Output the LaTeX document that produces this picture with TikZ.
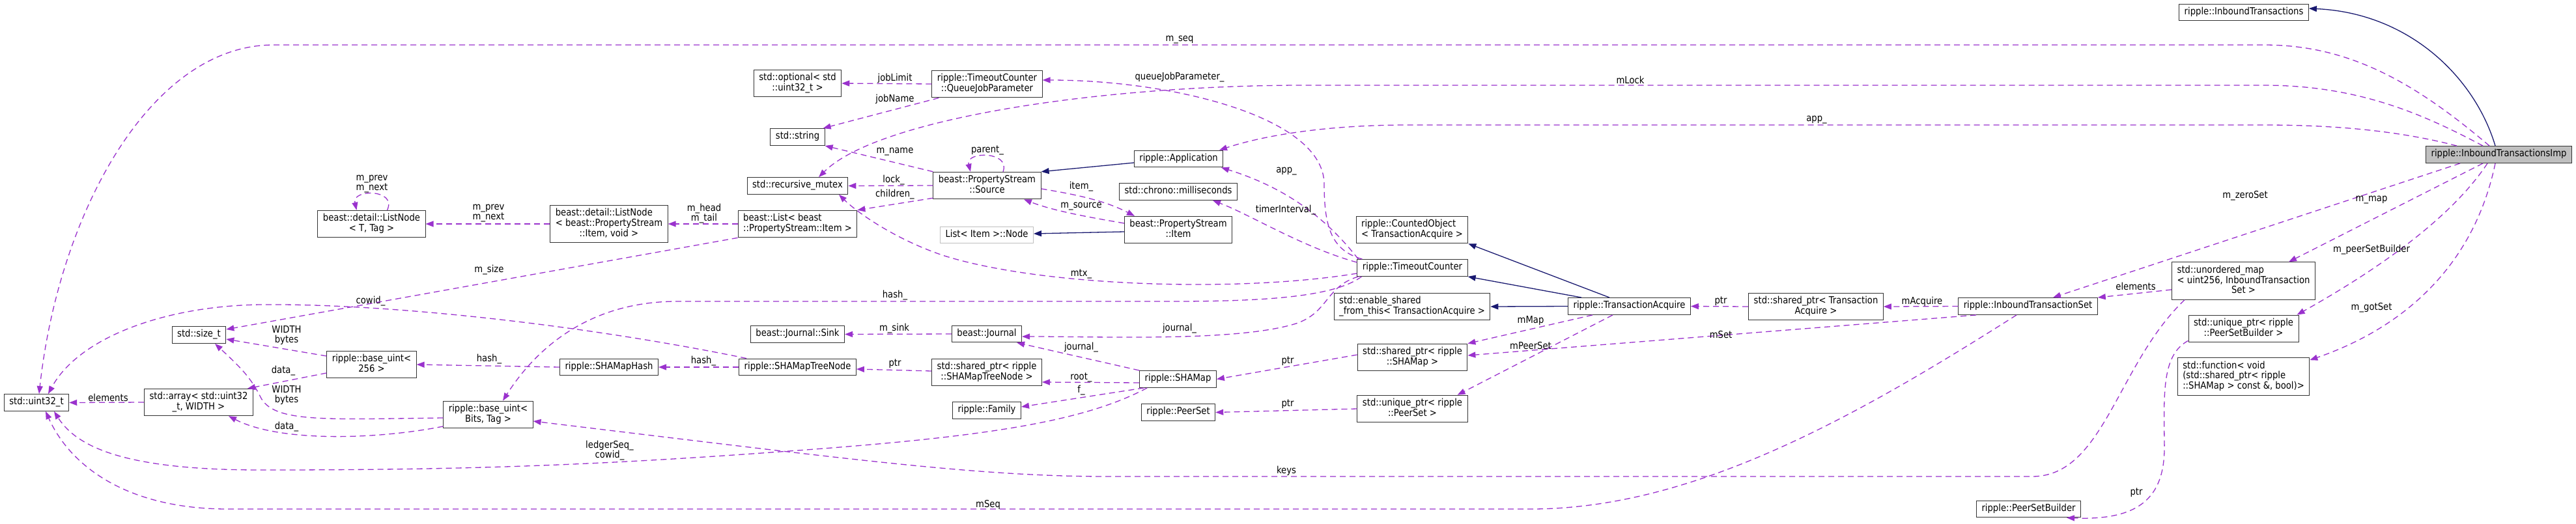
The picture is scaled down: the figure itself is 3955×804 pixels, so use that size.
\documentclass[tikz,border=0pt]{standalone}
\usepackage{fontspec}
\setmainfont{DejaVu Sans}[FakeStretch=0.88]
\usepackage{xcolor}
\usepackage{tikz}
\usetikzlibrary{arrows.meta}
\definecolor{membpurple}{HTML}{9A32CD}
\definecolor{inhnavy}{HTML}{191970}
\definecolor{boxline}{HTML}{333333}
\definecolor{impgray}{HTML}{BFBFBF}
\definecolor{nodocgray}{HTML}{BFBFBF}
\newcommand{\nodefont}{\fontsize{15}{15}\selectfont}
\newcommand{\cltwo}[2]{\begin{tabular}{@{}l@{}}#1\\\multicolumn{1}{@{}c@{}}{#2}\end{tabular}}
\newcommand{\clthree}[3]{\begin{tabular}{@{}l@{}}#1\\#2\\\multicolumn{1}{@{}c@{}}{#3}\end{tabular}}

\begin{document}
\begin{tikzpicture}[
  x=1pt, y=-1pt,
  font=\nodefont,
  cls/.style={draw=boxline, fill=white, line width=1pt, inner xsep=8pt, inner ysep=5pt, execute at begin node=\strut},
  memb/.style={draw=membpurple, line width=1.3pt, dash pattern=on 9pt off 6pt, -{Triangle[length=12pt,width=9pt]}},
  inher/.style={draw=inhnavy, line width=1.3pt, -{Triangle[length=12pt,width=9pt]}},
  lbl/.style={inner sep=0pt, align=center}
]
\useasboundingbox (0,0) rectangle (3955,804);

% classes
\node[cls] (itr) at (3445,19) {ripple::InboundTransactions};
\node[cls, fill=impgray] (imp) at (3836.5,237.5) {ripple::InboundTransactionsImp};
\node[cls] (u32) at (56,618.5) {std::uint32\_t};
\node[cls] (lnT) at (570.5,344) {\cltwo{beast::detail::ListNode}{< T, Tag >}};
\node[cls] (sizet) at (305.5,514.5) {std::size\_t};
\node[cls] (bu256) at (570.5,560) {\cltwo{ripple::base\_uint<}{256 >}};
\node[cls] (arr) at (305,618) {\cltwo{std::array< std::uint32}{\_t, WIDTH >}};
\node[cls] (opt) at (1224.5,128) {\cltwo{std::optional< std}{::uint32\_t >}};
\node[cls] (str) at (1224.5,210.5) {std::string};
\node[cls] (rmtx) at (1224.5,285.5) {std::recursive\_mutex};
\node[cls] (lnItem) at (935,344) {\clthree{beast::detail::ListNode}{< beast::PropertyStream}{::Item, void >}};
\node[cls] (list) at (1224.5,344) {\cltwo{beast::List< beast}{::PropertyStream::Item >}};
\node[cls] (sink) at (1224.5,513.5) {beast::Journal::Sink};
\node[cls] (shhash) at (935,564) {ripple::SHAMapHash};
\node[cls] (tnode) at (1224.5,564) {ripple::SHAMapTreeNode};
\node[cls] (buBT) at (749.5,637) {\cltwo{ripple::base\_uint<}{Bits, Tag >}};
\node[cls] (qjp) at (1515.5,129) {\cltwo{ripple::TimeoutCounter}{::QueueJobParameter}};
\node[cls] (app) at (1809.5,244) {ripple::Application};
\node[cls] (src) at (1515.5,285) {\cltwo{beast::PropertyStream}{::Source}};
\node[cls] (msec) at (1809,294.5) {std::chrono::milliseconds};
\node[cls] (item) at (1809,353) {\cltwo{beast::PropertyStream}{::Item}};
\node[cls, draw=nodocgray] (lnode) at (1515,361) {List< Item >::Node};
\node[cls] (cobj) at (2168,353) {\cltwo{ripple::CountedObject}{< TransactionAcquire >}};
\node[cls] (tc) at (2168.5,411.5) {ripple::TimeoutCounter};
\node[cls] (esft) at (2168,471) {\cltwo{std::enable\_shared}{\_from\_this< TransactionAcquire >}};
\node[cls] (jrn) at (1515,513) {beast::Journal};
\node[cls] (sptn) at (1515,572) {\cltwo{std::shared\_ptr< ripple}{::SHAMapTreeNode >}};
\node[cls] (smap) at (1808.5,582.5) {ripple::SHAMap};
\node[cls] (spsm) at (2168.5,549) {\cltwo{std::shared\_ptr< ripple}{::SHAMap >}};
\node[cls] (fam) at (1515,630.5) {ripple::Family};
\node[cls] (pset) at (1809,633.5) {ripple::PeerSet};
\node[cls] (upps) at (2168.5,628) {\cltwo{std::unique\_ptr< ripple}{::PeerSet >}};
\node[cls] (ta) at (2501.5,470.5) {ripple::TransactionAcquire};
\node[cls] (spta) at (2788,471) {\cltwo{std::shared\_ptr< Transaction}{Acquire >}};
\node[cls] (its) at (3113.5,470.5) {ripple::InboundTransactionSet};
\node[cls] (umap) at (3444.5,431.5) {\clthree{std::unordered\_map}{< uint256, InboundTransaction}{Set >}};
\node[cls] (uppsb) at (3444.5,505) {\cltwo{std::unique\_ptr< ripple}{::PeerSetBuilder >}};
\node[cls] (func) at (3444.5,578.5) {\clthree{std::function< void}{(std::shared\_ptr< ripple}{::SHAMap > const \&, bool)>}};
\node[cls] (psb) at (3114.5,782) {ripple::PeerSetBuilder};

% inheritance
\draw[inher] ([xshift=-5.5pt]imp.north) .. controls (3800,120) and (3700,20) .. ([yshift=6pt]itr.east);
\draw[inher] ([xshift=-30.5pt]ta.north) -- (cobj.south east);
\draw[inher] ([xshift=-73.5pt]ta.north) -- (tc.south east);
\draw[inher] (ta.west) -- (esft.east);
\draw[inher] ([yshift=-6pt]app.west) -- (src.north east);
\draw[inher] ([yshift=-3pt]item.west) -- ([yshift=2pt]lnode.east);

% members of InboundTransactionsImp
\draw[memb] ([xshift=-14.5pt]imp.north) .. controls (3700,120) and (3600,69) .. (3476,69) -- (420,69) .. controls (230,69) and (90,330) .. ([xshift=4pt]u32.north) node[lbl, at={(1811,61)}] {m\_seq};
\draw[memb] ([xshift=-24.5pt]imp.north) .. controls (3720,175) and (3620,131) .. (3476,131) -- (2000,131) .. controls (1700,131) and (1350,180) .. ([xshift=32.5pt]rmtx.north) node[lbl, at={(2503,123)}] {mLock};
\draw[memb] ([xshift=-64.5pt]imp.north) .. controls (3680,200) and (3580,192) .. (3476,192) -- (2160,192) .. controls (2050,192) and (1950,205) .. ([xshift=62.5pt]app.north) node[lbl, at={(2789,184)}] {app\_};
\draw[memb] ([xshift=-59.5pt]imp.south) -- ([xshift=38.5pt]its.north) node[lbl, at={(3447,301)}] {m\_zeroSet};
\draw[memb] ([xshift=-24.5pt]imp.south) -- ([xshift=69.5pt]umap.north) node[lbl, at={(3641,307)}] {m\_map};
\draw[memb] ([xshift=-17.5pt]imp.south) .. controls (3760,340) and (3640,420) .. ([xshift=-3pt]uppsb.north east) node[lbl, at={(3641,384)}] {m\_peerSetBuilder};
\draw[memb] ([xshift=-5.5pt]imp.south) .. controls (3800,400) and (3700,500) .. ([yshift=-4pt]func.north east) node[lbl, at={(3641,473)}] {m\_gotSet};

% transaction sets
\draw[memb] ([yshift=-13.5pt]umap.west) -- (its.north east) node[lbl, at={(3279,440)}] {elements};
\draw[memb] ([xshift=-90.5pt]umap.south) .. controls (3250,560) and (3230,732) .. (3120,732) -- (1700,732) .. controls (1500,732) and (1300,705) .. ([yshift=-10pt]buBT.east) node[lbl, at={(1975,723)}] {keys};
\draw[memb] ([xshift=-17.5pt]its.south) .. controls (2850,640) and (2600,782) .. (2350,782) -- (350,782) .. controls (200,782) and (110,720) .. ([xshift=14pt]u32.south) node[lbl, at={(1517,775)}] {mSeq};
\draw[memb] (its.west) -- (spta.east) node[lbl, at={(2951,463)}] {mAcquire};
\draw[memb] ([xshift=-79.5pt]its.south) -- ([yshift=3pt]spsm.east) node[lbl, at={(2642,514)}] {mSet};
\draw[memb] ([yshift=3pt]uppsb.south west) .. controls (3320,545) and (3322,600) .. (3323,680) .. controls (3325,760) and (3290,800) .. ([xshift=-22pt]psb.south east) node[lbl, at={(3280,757)}] {ptr};
\draw[memb] (spta.west) -- (ta.east) node[lbl, at={(2642,463)}] {ptr};
\draw[memb] ([xshift=-56.5pt]ta.south) -- (spsm.north east) node[lbl, at={(2350,493)}] {mMap};
\draw[memb] ([xshift=-25.5pt]ta.south) -- ([xshift=-16pt]upps.north east) node[lbl, at={(2350,531)}] {mPeerSet};

% TimeoutCounter
\draw[memb] ([xshift=8pt]tc.north west) .. controls (2045,385) and (2033,350) .. (2033,283) .. controls (2033,180) and (1800,123) .. ([yshift=6pt]qjp.east) node[lbl, at={(1811,119)}] {queueJobParameter\_};
\draw[memb] ([xshift=2pt]tc.north west) .. controls (2040,340) and (1980,290) .. ([xshift=65.5pt]app.south) node[lbl, at={(1975,263)}] {app\_};
\draw[memb] ([yshift=-5pt]tc.north west) .. controls (2000,380) and (1920,330) .. ([xshift=53pt]msec.south) node[lbl, at={(1974,323)}] {timerInterval\_};
\draw[memb] ([yshift=-8.5pt]tc.west) .. controls (1900,450) and (1600,440) .. (1450,393) .. controls (1380,370) and (1320,330) .. ([xshift=63.5pt]rmtx.south) node[lbl, at={(1660,421)}] {mtx\_};
\draw[memb] ([xshift=7pt]tc.south west) .. controls (2050,455) and (1950,463) .. (1800,463) -- (1040,463) .. controls (900,463) and (820,540) .. ([xshift=22.5pt]buBT.north) node[lbl, at={(1374,454)}] {hash\_};
\draw[memb] ([xshift=2pt]tc.south west) .. controls (2035,440) and (2040,480) .. (1990,497) .. controls (1900,525) and (1700,517) .. ([yshift=-4pt]jrn.east) node[lbl, at={(1811,505)}] {journal\_};

% SHAMap
\draw[memb] (smap.north west) -- ([xshift=-8pt]jrn.south east) node[lbl, at={(1660,534)}] {journal\_};
\draw[memb] ([yshift=-5.5pt]smap.west) -- ([yshift=-15pt]sptn.east) node[lbl, at={(1660,580)}] {root\_};
\draw[memb] ([xshift=7pt]smap.south west) -- ([yshift=5.5pt]fam.east) node[lbl, at={(1660,600)}] {f\_};
\draw[memb] ([xshift=12pt]smap.south west) .. controls (1660,650) and (1500,672) .. (1211,693) .. controls (900,716) and (700,722) .. (400,722) .. controls (200,722) and (120,690) .. ([xshift=27pt]u32.south) node[lbl, at={(936,692)}] {ledgerSeq\_\\cowid\_};
\draw[memb] ([yshift=4pt]spsm.west) -- (smap.east) node[lbl, at={(1977,555)}] {ptr};
\draw[memb] (upps.west) -- (pset.east) node[lbl, at={(1977,621)}] {ptr};
\draw[memb] ([yshift=2pt]sptn.west) -- ([yshift=-3pt]tnode.east) node[lbl, at={(1374,559)}] {ptr};
\draw[memb] (tnode.west) -- (shhash.east) node[lbl, at={(1080,555)}] {hash\_};
\draw[memb] (shhash.west) -- (bu256.east) node[lbl, at={(751,552)}] {hash\_};
\draw[memb] ([xshift=12pt]tnode.north west) .. controls (900,500) and (600,466) .. (400,468) .. controls (250,470) and (120,520) .. ([xshift=18pt]u32.north) node[lbl, at={(569,463)}] {cowid\_};

% base_uint, array, lists
\draw[memb] (list.south west) -- ([yshift=8.5pt]sizet.east) node[lbl, at={(751,415)}] {m\_size};
\draw[memb] ([yshift=13pt]bu256.west) -- ([yshift=-6.5pt]sizet.east) node[lbl, at={(440,515)}] {WIDTH\\bytes};
\draw[memb] ([yshift=-13pt]bu256.west) -- ([xshift=75pt]arr.north) node[lbl, at={(435,570)}] {data\_};
\draw[memb] (arr.west) -- (u32.east) node[lbl, at={(166,611)}] {elements};
\draw[memb] ([yshift=-5pt]buBT.west) .. controls (500,644) and (420,650) .. (400,610) .. controls (385,580) and (370,565) .. ([xshift=24.5pt]sizet.south) node[lbl, at={(440,607)}] {WIDTH\\bytes};
\draw[memb] ([yshift=-18pt]buBT.west) .. controls (580,675) and (430,680) .. ([xshift=46pt]arr.south) node[lbl, at={(440,656)}] {data\_};
\draw[memb] (list.west) -- (lnItem.east) node[lbl, at={(1081,328)}] {m\_head\\m\_tail};
\draw[memb] (lnItem.west) -- (lnT.east) node[lbl, at={(750,328)}] {m\_prev\\m\_next};
\draw[memb] ([xshift=24pt]lnT.north) .. controls (610,290) and (540,290) .. ([xshift=-23pt]lnT.north) node[lbl, at={(571,283)}] {m\_prev\\m\_next};

% PropertyStream
\draw[memb] (src.north west) -- (str.south east) node[lbl, at={(1374,233)}] {m\_name};
\draw[memb] (src.west) -- (rmtx.east) node[lbl, at={(1372,277)}] {lock\_};
\draw[memb] ([yshift=2pt]src.south west) -- (list.north east) node[lbl, at={(1374,299)}] {children\_};
\draw[memb] ([xshift=24.5pt]src.north) .. controls (1552,232) and (1482,232) .. ([xshift=-25.5pt]src.north) node[lbl, at={(1516,231)}] {parent\_};
\draw[memb] ([yshift=-5pt]src.east) .. controls (1660,300) and (1700,310) .. ([xshift=-67pt]item.north) node[lbl, at={(1660,287)}] {item\_};
\draw[memb] ([yshift=10pt]item.west) .. controls (1680,335) and (1620,325) .. ([xshift=56.5pt]src.south) node[lbl, at={(1660,317)}] {m\_source};
\draw[memb] (qjp.west) -- (opt.east) node[lbl, at={(1374,120)}] {jobLimit};
\draw[memb] ([xshift=11pt]qjp.south west) -- ([xshift=-3pt]str.north east) node[lbl, at={(1374,152)}] {jobName};
\draw[memb] (jrn.west) -- (sink.east) node[lbl, at={(1373,505)}] {m\_sink};
\end{tikzpicture}
\end{document}
